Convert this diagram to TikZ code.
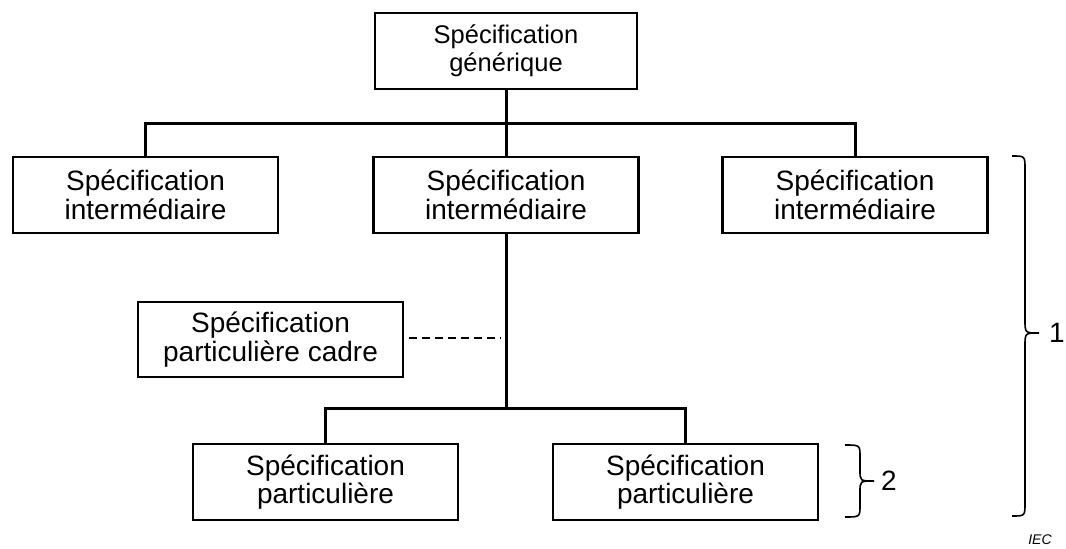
\documentclass[tikz,border=0pt]{standalone}
\usepackage{fontspec}
\setmainfont{Liberation Sans}
\begin{document}
\begin{tikzpicture}[x=1pt,y=-1pt,
  spec/.style={draw,line width=2.8pt,minimum width=265pt,minimum height=76pt,inner sep=0pt,align=center,
    font=\fontsize{28}{28.5}\selectfont},
  topspec/.style={spec,minimum width=262pt,font=\fontsize{25.5}{28}\selectfont},
  cadrespec/.style={spec,line width=1.7pt,minimum height=75pt},
  conn/.style={line width=3pt},
  dashconn/.style={line width=1.5pt,dash pattern=on 8pt off 5pt},
  bracel/.style={line width=1.6pt},
  lbl/.style={font=\fontsize{28}{28}\selectfont,inner sep=0pt}
]
\useasboundingbox (0,0) rectangle (1066,549);

\node[topspec] (top) at (506,51) {Spécification\\générique};
\node[spec] (m1) at (145.5,195) {Spécification\\intermédiaire};
\node[spec] (m2) at (506,195) {Spécification\\intermédiaire};
\node[spec] (m3) at (855,195) {Spécification\\intermédiaire};
\node[cadrespec] (pc) at (270.5,339.5) {Spécification\\particulière cadre};
\node[spec] (b1) at (325.5,482) {Spécification\\particulière};
\node[spec] (b2) at (685.5,482) {Spécification\\particulière};

% connectors
\draw[conn] (top.south) -- (m2.north);
\draw[conn] (m1.north) |- (506,123) -| (m3.north);
\draw[conn] (m2.south) -- (506,408);
\draw[conn] (b1.north) |- (506,408) -| (b2.north);
\coordinate (dashend) at (500,338);
\draw[dashconn] ([xshift=5pt]pc.east |- dashend) -- (dashend);

% brace 1
\draw[bracel] (1012,156) .. controls (1025,156) .. (1025,169) -- (1025,320)
  .. controls (1025,333) .. (1039,333) .. controls (1025,333) .. (1025,346)
  -- (1025,503) .. controls (1025,516) .. (1012,516);
\node[lbl] (one) at (1057,333) {1};

% brace 2
\draw[bracel] (845,445) .. controls (860,445) .. (860,457) -- (860,470)
  .. controls (860,481) .. (874,481) .. controls (860,481) .. (860,492)
  -- (860,505) .. controls (860,517) .. (845,517);
\node[lbl] (two) at (889,481) {2};

\node[font=\fontsize{14}{14}\selectfont\itshape,inner sep=0pt] (iec) at (1040,540) {IEC};
\end{tikzpicture}
\end{document}
